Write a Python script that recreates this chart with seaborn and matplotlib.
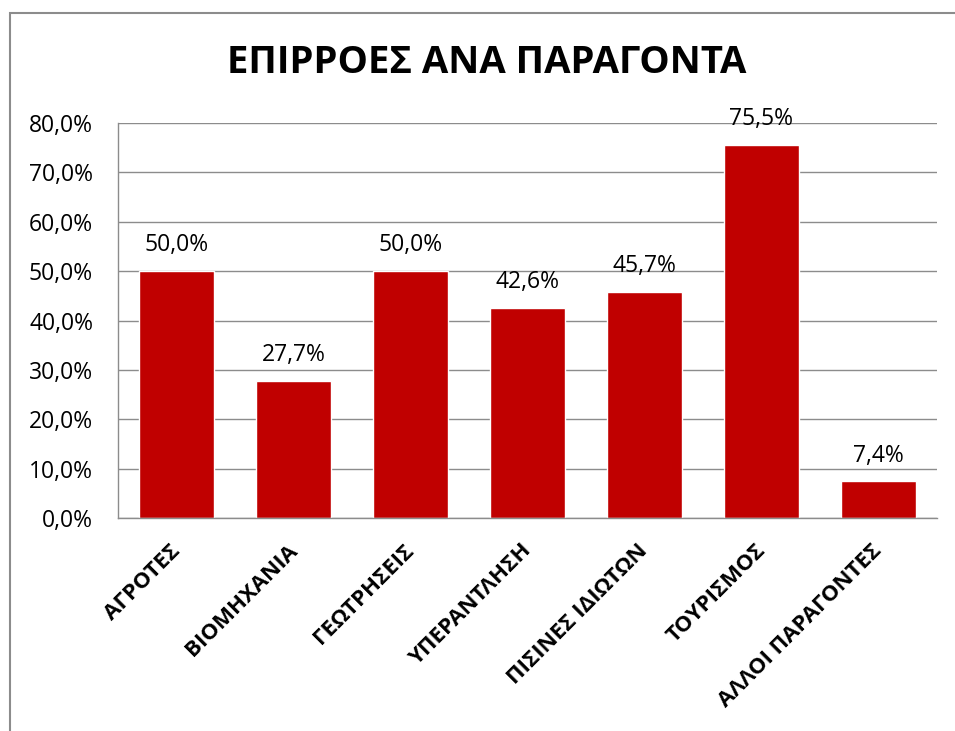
import matplotlib.pyplot as plt
import matplotlib.transforms as mtransforms
import seaborn as sns
import pandas as pd
from matplotlib.patches import Rectangle
from matplotlib.ticker import FuncFormatter

factors = ['ΑΓΡΟΤΕΣ', 'ΒΙΟΜΗΧΑΝΙΑ', 'ΓΕΩΤΡΗΣΕΙΣ', 'ΥΠΕΡΑΝΤΛΗΣΗ',
           'ΠΙΣΙΝΕΣ ΙΔΙΩΤΩΝ', 'ΤΟΥΡΙΣΜΟΣ', 'ΑΛΛΟΙ ΠΑΡΑΓΟΝΤΕΣ']
shares = [50.0, 27.7, 50.0, 42.6, 45.7, 75.5, 7.4]
yticks = [0, 10, 20, 30, 40, 50, 60, 70, 80]

df = pd.DataFrame({'factor': factors, 'share': shares})

sns.set_theme(style="white")
plt.rcParams['font.family'] = ['Open Sans', 'DejaVu Sans']
plt.rcParams['text.color'] = 'black'

fig = plt.figure(figsize=(9.55, 7.31), dpi=100)
ax = fig.add_axes([0.1236, 0.2914, 0.8575, 0.5403])

sns.barplot(data=df, x='factor', y='share', color='#C00000', saturation=1,
            width=0.64, ax=ax)

ax.set_ylim(0, 80)
ax.set_yticks(yticks)
ax.yaxis.set_major_formatter(FuncFormatter(lambda v, p: f"{v:.1f}%".replace('.', ',')))
ax.yaxis.grid(True, color='#8c8c8c', linewidth=1)
ax.set_axisbelow(True)
for s in ['top', 'right']:
    ax.spines[s].set_visible(False)
for s in ['left', 'bottom']:
    ax.spines[s].set_color('#8c8c8c')
    ax.spines[s].set_linewidth(1)
ax.tick_params(axis='y', labelsize=16.5, labelcolor='black', pad=18, length=0)
ax.tick_params(axis='x', length=0, pad=16, labelcolor='black')
ax.set_xlabel('')
ax.set_ylabel('')
ax.set_xticks(range(len(factors)))
ax.set_xticklabels(factors, rotation=45, ha='right', va='top',
                   rotation_mode='anchor', fontsize=16, fontweight='bold')
# nudge the rotated labels a bit to the left
shift = mtransforms.ScaledTranslation(-5 / 72, 0, fig.dpi_scale_trans)
for lbl in ax.get_xticklabels():
    lbl.set_transform(lbl.get_transform() + shift)

for i, v in enumerate(shares):
    ax.annotate(f"{v:.1f}%".replace('.', ','), (i, v), xytext=(0, 10),
                textcoords='offset points', ha='center', va='bottom',
                fontsize=16.5, color='black')

fig.suptitle('ΕΠΙΡΡΟΕΣ ΑΝΑ ΠΑΡΑΓΟΝΤΑ', x=0.51, y=0.94, fontsize=27.5,
             fontweight='bold', color='black')

fig.patches.append(Rectangle((0.0105, -0.05), 1.2, 0.05 + 1 - 13 / 731,
                             transform=fig.transFigure, fill=False,
                             edgecolor='#8c8c8c', linewidth=1.5))

fig.savefig('out.png', dpi=100)
